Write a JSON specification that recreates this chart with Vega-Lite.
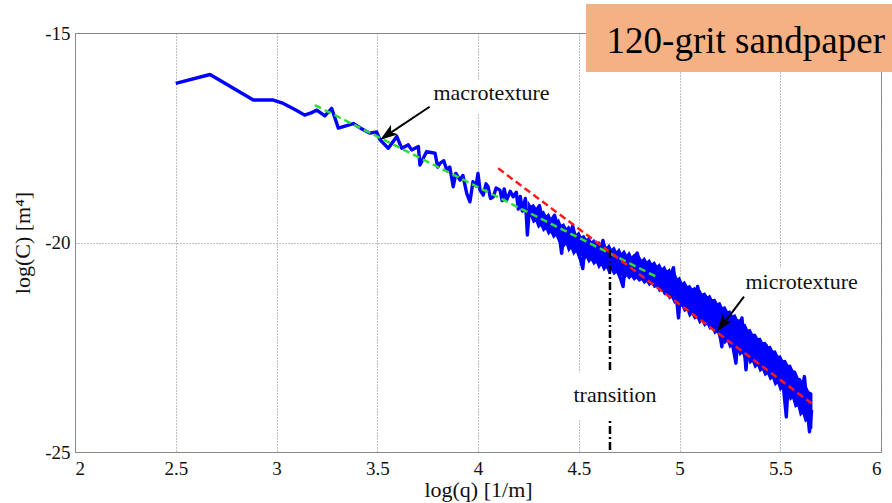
{
  "$schema": "https://vega.github.io/schema/vega-lite/v6.json",
  "width": 806,
  "height": 419,
  "autosize": {"type": "none"},
  "padding": {"left": 75, "top": 33, "right": 11, "bottom": 51},
  "background": "white",
  "config": {
    "view": {"stroke": "#8c8c8c", "strokeWidth": 1},
    "font": "Liberation Serif",
    "axis": {
      "labelFont": "Liberation Serif",
      "titleFont": "Liberation Serif",
      "labelFontSize": 19,
      "titleFontSize": 22,
      "labelColor": "#111",
      "titleColor": "#111",
      "titleFontWeight": "normal",
      "ticks": false,
      "domain": false,
      "grid": true,
      "gridColor": "#808080",
      "gridDash": [1, 2],
      "gridWidth": 1
    }
  },
  "datasets": {
    "blue": [
      {"x": 2.5, "y": -16.2}, {"x": 2.67, "y": -15.99}, {"x": 2.885, "y": -16.6}, {"x": 2.984, "y": -16.6},
      {"x": 3.034, "y": -16.68}, {"x": 3.1, "y": -16.85}, {"x": 3.14, "y": -16.96}, {"x": 3.175, "y": -16.9},
      {"x": 3.2, "y": -16.84}, {"x": 3.24, "y": -16.98}, {"x": 3.274, "y": -16.8}, {"x": 3.307, "y": -17.27},
      {"x": 3.34, "y": -17.22}, {"x": 3.381, "y": -17.16}, {"x": 3.42, "y": -17.28}, {"x": 3.464, "y": -17.39},
      {"x": 3.497, "y": -17.36}, {"x": 3.514, "y": -17.55}, {"x": 3.555, "y": -17.75}, {"x": 3.597, "y": -17.47},
      {"x": 3.621, "y": -17.75}, {"x": 3.654, "y": -17.67}, {"x": 3.671, "y": -17.79}, {"x": 3.704, "y": -17.71},
      {"x": 3.712, "y": -18.15}, {"x": 3.745, "y": -17.83}, {"x": 3.787, "y": -17.87}, {"x": 3.8, "y": -18.2},
      {"x": 3.811, "y": -18.11}, {"x": 3.83, "y": -18.05}, {"x": 3.845, "y": -18.27}, {"x": 3.86, "y": -18.2},
      {"x": 3.877, "y": -18.67}, {"x": 3.89, "y": -18.35}, {"x": 3.911, "y": -18.51}, {"x": 3.925, "y": -18.4},
      {"x": 3.944, "y": -18.83}, {"x": 3.96, "y": -19.03}, {"x": 3.975, "y": -18.55}, {"x": 3.99, "y": -18.65},
      {"x": 4.0, "y": -18.35}, {"x": 4.01, "y": -18.75}, {"x": 4.026, "y": -18.87}, {"x": 4.04, "y": -18.6},
      {"x": 4.05, "y": -18.67}, {"x": 4.062, "y": -18.95}, {"x": 4.076, "y": -18.91}, {"x": 4.09, "y": -18.7},
      {"x": 4.109, "y": -18.75}, {"x": 4.12, "y": -19.0}, {"x": 4.13, "y": -18.72}, {"x": 4.142, "y": -18.99},
      {"x": 4.16, "y": -18.78}, {"x": 4.175, "y": -18.91}, {"x": 4.19, "y": -18.8}, {"x": 4.2, "y": -19.2},
      {"x": 4.21, "y": -18.9}, {"x": 4.22, "y": -19.25}, {"x": 4.235, "y": -18.95}, {"x": 4.245, "y": -19.82},
      {"x": 4.255, "y": -19.2}, {"x": 4.28, "y": -19.3}, {"x": 4.305, "y": -19.12}, {"x": 4.32, "y": -19.45},
      {"x": 4.35, "y": -19.57}, {"x": 4.38, "y": -19.35}, {"x": 4.4, "y": -19.7}, {"x": 4.415, "y": -20.26},
      {"x": 4.425, "y": -19.84}, {"x": 4.45, "y": -19.92}, {"x": 4.47, "y": -19.6}, {"x": 4.49, "y": -20.05},
      {"x": 4.52, "y": -20.62}, {"x": 4.53, "y": -20.1}, {"x": 4.56, "y": -20.2}, {"x": 4.6, "y": -20.3},
      {"x": 4.62, "y": -19.95}, {"x": 4.64, "y": -20.4}, {"x": 4.68, "y": -20.45}, {"x": 4.72, "y": -21.05},
      {"x": 4.73, "y": -20.52}, {"x": 4.76, "y": -20.56}, {"x": 4.79, "y": -20.25}, {"x": 4.81, "y": -20.64},
      {"x": 4.85, "y": -20.73}, {"x": 4.88, "y": -20.78}, {"x": 4.91, "y": -20.85}, {"x": 4.94, "y": -21.0},
      {"x": 4.97, "y": -20.6}, {"x": 4.995, "y": -21.8}, {"x": 5.005, "y": -21.2}, {"x": 5.04, "y": -21.4},
      {"x": 5.07, "y": -21.46}, {"x": 5.09, "y": -21.05}, {"x": 5.11, "y": -21.55}, {"x": 5.14, "y": -21.65},
      {"x": 5.17, "y": -21.77}, {"x": 5.19, "y": -21.85}, {"x": 5.21, "y": -22.49}, {"x": 5.22, "y": -21.96},
      {"x": 5.25, "y": -22.08}, {"x": 5.28, "y": -22.88}, {"x": 5.29, "y": -22.25}, {"x": 5.31, "y": -21.8},
      {"x": 5.33, "y": -23.04}, {"x": 5.34, "y": -22.45}, {"x": 5.37, "y": -22.57}, {"x": 5.4, "y": -22.69},
      {"x": 5.43, "y": -22.45}, {"x": 5.45, "y": -22.89}, {"x": 5.48, "y": -23.02}, {"x": 5.51, "y": -23.15},
      {"x": 5.53, "y": -24.16}, {"x": 5.54, "y": -23.3}, {"x": 5.57, "y": -23.48}, {"x": 5.6, "y": -23.7},
      {"x": 5.62, "y": -23.2}, {"x": 5.635, "y": -24.0}, {"x": 5.645, "y": -24.52}, {"x": 5.656, "y": -24.0}
    ],
    "band": [
      {"x": 4.25, "top": -19.05, "bot": -19.4},
      {"x": 4.262, "top": -19.14, "bot": -19.36},
      {"x": 4.275, "top": -19.1, "bot": -19.52},
      {"x": 4.288, "top": -19.2, "bot": -19.48},
      {"x": 4.3, "top": -19.18, "bot": -19.64},
      {"x": 4.312, "top": -19.3, "bot": -19.58},
      {"x": 4.325, "top": -19.26, "bot": -19.72},
      {"x": 4.338, "top": -19.38, "bot": -19.66},
      {"x": 4.35, "top": -19.32, "bot": -19.8},
      {"x": 4.362, "top": -19.45, "bot": -19.74},
      {"x": 4.375, "top": -19.4, "bot": -19.88},
      {"x": 4.388, "top": -19.52, "bot": -19.82},
      {"x": 4.4, "top": -19.46, "bot": -19.96},
      {"x": 4.412, "top": -19.6, "bot": -19.9},
      {"x": 4.425, "top": -19.56, "bot": -20.1},
      {"x": 4.438, "top": -19.68, "bot": -20.02},
      {"x": 4.45, "top": -19.62, "bot": -20.2},
      {"x": 4.462, "top": -19.74, "bot": -20.12},
      {"x": 4.475, "top": -19.7, "bot": -20.28},
      {"x": 4.488, "top": -19.82, "bot": -20.2},
      {"x": 4.5, "top": -19.76, "bot": -20.36},
      {"x": 4.512, "top": -19.88, "bot": -20.28},
      {"x": 4.525, "top": -19.84, "bot": -20.42},
      {"x": 4.538, "top": -19.94, "bot": -20.34},
      {"x": 4.55, "top": -19.88, "bot": -20.47},
      {"x": 4.562, "top": -20.0, "bot": -20.4},
      {"x": 4.575, "top": -19.94, "bot": -20.52},
      {"x": 4.588, "top": -20.06, "bot": -20.46},
      {"x": 4.6, "top": -19.99, "bot": -20.6},
      {"x": 4.612, "top": -20.1, "bot": -20.52},
      {"x": 4.625, "top": -20.02, "bot": -20.66},
      {"x": 4.638, "top": -20.14, "bot": -20.58},
      {"x": 4.65, "top": -20.06, "bot": -20.72},
      {"x": 4.662, "top": -20.18, "bot": -20.64},
      {"x": 4.675, "top": -20.12, "bot": -20.76},
      {"x": 4.688, "top": -20.24, "bot": -20.7},
      {"x": 4.7, "top": -20.16, "bot": -20.82},
      {"x": 4.712, "top": -20.28, "bot": -20.76},
      {"x": 4.725, "top": -20.2, "bot": -20.86},
      {"x": 4.738, "top": -20.32, "bot": -20.78},
      {"x": 4.75, "top": -20.24, "bot": -20.86},
      {"x": 4.762, "top": -20.36, "bot": -20.8},
      {"x": 4.775, "top": -20.29, "bot": -20.89},
      {"x": 4.788, "top": -20.4, "bot": -20.84},
      {"x": 4.8, "top": -20.34, "bot": -20.92},
      {"x": 4.812, "top": -20.44, "bot": -20.88},
      {"x": 4.825, "top": -20.37, "bot": -20.97},
      {"x": 4.838, "top": -20.48, "bot": -20.92},
      {"x": 4.85, "top": -20.42, "bot": -21.02},
      {"x": 4.862, "top": -20.52, "bot": -20.96},
      {"x": 4.875, "top": -20.47, "bot": -21.07},
      {"x": 4.888, "top": -20.58, "bot": -21.04},
      {"x": 4.9, "top": -20.52, "bot": -21.16},
      {"x": 4.912, "top": -20.64, "bot": -21.1},
      {"x": 4.925, "top": -20.58, "bot": -21.24},
      {"x": 4.938, "top": -20.7, "bot": -21.2},
      {"x": 4.95, "top": -20.64, "bot": -21.34},
      {"x": 4.962, "top": -20.78, "bot": -21.3},
      {"x": 4.975, "top": -20.72, "bot": -21.44},
      {"x": 4.988, "top": -20.88, "bot": -21.4},
      {"x": 5.0, "top": -20.84, "bot": -21.54},
      {"x": 5.012, "top": -20.98, "bot": -21.5},
      {"x": 5.025, "top": -20.94, "bot": -21.64},
      {"x": 5.038, "top": -21.06, "bot": -21.6},
      {"x": 5.05, "top": -21.03, "bot": -21.76},
      {"x": 5.062, "top": -21.12, "bot": -21.7},
      {"x": 5.075, "top": -21.08, "bot": -21.82},
      {"x": 5.088, "top": -21.18, "bot": -21.78},
      {"x": 5.1, "top": -21.14, "bot": -21.92},
      {"x": 5.112, "top": -21.24, "bot": -21.86},
      {"x": 5.125, "top": -21.21, "bot": -21.99},
      {"x": 5.138, "top": -21.31, "bot": -21.94},
      {"x": 5.15, "top": -21.27, "bot": -22.06},
      {"x": 5.162, "top": -21.38, "bot": -22.02},
      {"x": 5.175, "top": -21.36, "bot": -22.17},
      {"x": 5.188, "top": -21.47, "bot": -22.12},
      {"x": 5.2, "top": -21.44, "bot": -22.29},
      {"x": 5.212, "top": -21.56, "bot": -22.24},
      {"x": 5.225, "top": -21.54, "bot": -22.4},
      {"x": 5.238, "top": -21.66, "bot": -22.34},
      {"x": 5.25, "top": -21.64, "bot": -22.5},
      {"x": 5.262, "top": -21.76, "bot": -22.44},
      {"x": 5.275, "top": -21.73, "bot": -22.59},
      {"x": 5.288, "top": -21.86, "bot": -22.54},
      {"x": 5.3, "top": -21.84, "bot": -22.68},
      {"x": 5.312, "top": -21.97, "bot": -22.62},
      {"x": 5.325, "top": -21.96, "bot": -22.78},
      {"x": 5.338, "top": -22.1, "bot": -22.72},
      {"x": 5.35, "top": -22.08, "bot": -22.88},
      {"x": 5.362, "top": -22.2, "bot": -22.82},
      {"x": 5.375, "top": -22.19, "bot": -22.98},
      {"x": 5.388, "top": -22.3, "bot": -22.92},
      {"x": 5.4, "top": -22.29, "bot": -23.07},
      {"x": 5.412, "top": -22.4, "bot": -23.02},
      {"x": 5.425, "top": -22.39, "bot": -23.17},
      {"x": 5.438, "top": -22.5, "bot": -23.12},
      {"x": 5.45, "top": -22.48, "bot": -23.27},
      {"x": 5.462, "top": -22.6, "bot": -23.22},
      {"x": 5.475, "top": -22.59, "bot": -23.4},
      {"x": 5.488, "top": -22.72, "bot": -23.34},
      {"x": 5.5, "top": -22.71, "bot": -23.52},
      {"x": 5.512, "top": -22.83, "bot": -23.46},
      {"x": 5.525, "top": -22.82, "bot": -23.64},
      {"x": 5.538, "top": -22.94, "bot": -23.58},
      {"x": 5.55, "top": -22.93, "bot": -23.75},
      {"x": 5.562, "top": -23.06, "bot": -23.7},
      {"x": 5.575, "top": -23.08, "bot": -23.92},
      {"x": 5.588, "top": -23.24, "bot": -23.88},
      {"x": 5.6, "top": -23.26, "bot": -24.12},
      {"x": 5.612, "top": -23.4, "bot": -24.06},
      {"x": 5.625, "top": -23.41, "bot": -24.27},
      {"x": 5.64, "top": -23.56, "bot": -24.2},
      {"x": 5.656, "top": -23.6, "bot": -24.44}
    ],
    "green": [{"x": 3.19, "y": -16.72}, {"x": 4.886, "y": -20.82}],
    "red": [{"x": 4.1, "y": -18.23}, {"x": 5.656, "y": -23.84}],
    "transition": [{"x": 4.655, "y": -20.18, "y2": -25}],
    "labelBoxes": [
      {"x": 3.732, "x2": 4.407, "y": -16.12, "y2": -16.91},
      {"x": 5.3, "x2": 5.91, "y": -20.61, "y2": -21.37},
      {"x": 4.437, "x2": 4.943, "y": -23.11, "y2": -24.24}
    ],
    "labels": [
      {"x": 4.067, "y": -16.6, "label": "macrotexture"},
      {"x": 5.606, "y": -21.12, "label": "microtexture"},
      {"x": 4.68, "y": -23.81, "label": "transition"}
    ],
    "arrows": [
      {"x": 3.76, "y": -16.76, "x2": 3.56, "y2": -17.4},
      {"x": 5.32, "y": -21.29, "x2": 5.22, "y2": -21.93}
    ],
    "headMacro": [{"x": 3.554, "y": -17.415}],
    "headMicro": [{"x": 5.215, "y": -21.94}],
    "titleBox": [{"x": 4.536, "x2": 6.07, "y": -14.31, "y2": -15.93}],
    "titleText": [{"x": 5.329, "y": -15.485, "label": "120-grit sandpaper"}]
  },
  "layer": [
    {
      "data": {"name": "band"},
      "mark": {"type": "area", "fill": "#0000ff", "stroke": "#0000ff", "strokeWidth": 1.5, "opacity": 1, "fillOpacity": 1, "strokeOpacity": 1},
      "encoding": {
        "x": {"field": "x", "type": "quantitative", "scale": {"domain": [2, 6], "nice": false, "zero": false},
              "axis": {"title": "log(q) [1/m]", "values": [2, 2.5, 3, 3.5, 4, 4.5, 5, 5.5, 6], "labelExpr": "'' + datum.value", "labelFont": "Liberation Serif", "labelPadding": 7, "titleFont": "Liberation Serif", "titleBaseline": "alphabetic", "titleY": 44}},
        "y": {"field": "top", "type": "quantitative", "scale": {"domain": [-25, -15], "nice": false, "zero": false},
              "axis": {"title": "log(C) [m⁴]", "values": [-25, -20, -15], "labelExpr": "'' + datum.value", "labelFont": "Liberation Serif", "labelPadding": 5, "titleFont": "Liberation Serif", "titleBaseline": "alphabetic", "titleX": -46, "titleFontSize": 22}},
        "y2": {"field": "bot"}
      }
    },
    {
      "data": {"name": "blue"},
      "mark": {"type": "line", "color": "#0000ff", "strokeWidth": 3.4, "strokeJoin": "round", "opacity": 1},
      "encoding": {
        "x": {"field": "x", "type": "quantitative", "scale": {"domain": [2, 6], "nice": false, "zero": false}},
        "y": {"field": "y", "type": "quantitative", "scale": {"domain": [-25, -15], "nice": false, "zero": false}}
      }
    },
    {
      "data": {"name": "green"},
      "mark": {"type": "line", "color": "#33dd33", "strokeWidth": 2.5, "strokeDash": [7, 4]},
      "encoding": {
        "x": {"field": "x", "type": "quantitative"},
        "y": {"field": "y", "type": "quantitative"}
      }
    },
    {
      "data": {"name": "red"},
      "mark": {"type": "line", "color": "#ff1a1a", "strokeWidth": 2.5, "strokeDash": [7, 4]},
      "encoding": {
        "x": {"field": "x", "type": "quantitative"},
        "y": {"field": "y", "type": "quantitative"}
      }
    },
    {
      "data": {"name": "transition"},
      "mark": {"type": "rule", "color": "#000000", "strokeWidth": 2.5, "strokeDash": [8, 3, 2, 3]},
      "encoding": {
        "x": {"field": "x", "type": "quantitative"},
        "y": {"field": "y", "type": "quantitative"},
        "y2": {"field": "y2"}
      }
    },
    {
      "data": {"name": "labelBoxes"},
      "mark": {"type": "rect", "color": "white", "opacity": 1},
      "encoding": {
        "x": {"field": "x", "type": "quantitative"},
        "x2": {"field": "x2"},
        "y": {"field": "y", "type": "quantitative"},
        "y2": {"field": "y2"}
      }
    },
    {
      "data": {"name": "labels"},
      "mark": {"type": "text", "font": "Liberation Serif", "fontSize": 22, "color": "#111", "align": "center", "baseline": "alphabetic"},
      "encoding": {
        "x": {"field": "x", "type": "quantitative"},
        "y": {"field": "y", "type": "quantitative"},
        "text": {"field": "label"}
      }
    },
    {
      "data": {"name": "arrows"},
      "mark": {"type": "rule", "color": "#000000", "strokeWidth": 2},
      "encoding": {
        "x": {"field": "x", "type": "quantitative"},
        "y": {"field": "y", "type": "quantitative"},
        "x2": {"field": "x2"},
        "y2": {"field": "y2"}
      }
    },
    {
      "data": {"name": "headMacro"},
      "mark": {"type": "point", "shape": "M0,-1L0.6,0.8L0,0.35L-0.6,0.8Z", "filled": true, "color": "#000000", "size": 400, "angle": 234, "opacity": 1},
      "encoding": {
        "x": {"field": "x", "type": "quantitative"},
        "y": {"field": "y", "type": "quantitative"}
      }
    },
    {
      "data": {"name": "headMicro"},
      "mark": {"type": "point", "shape": "M0,-1L0.6,0.8L0,0.35L-0.6,0.8Z", "filled": true, "color": "#000000", "size": 400, "angle": 217, "opacity": 1},
      "encoding": {
        "x": {"field": "x", "type": "quantitative"},
        "y": {"field": "y", "type": "quantitative"}
      }
    },
    {
      "data": {"name": "titleBox"},
      "mark": {"type": "rect", "color": "#f4b183", "opacity": 1, "clip": false},
      "encoding": {
        "x": {"field": "x", "type": "quantitative"},
        "x2": {"field": "x2"},
        "y": {"field": "y", "type": "quantitative"},
        "y2": {"field": "y2"}
      }
    },
    {
      "data": {"name": "titleText"},
      "mark": {"type": "text", "font": "Liberation Serif", "fontSize": 37, "color": "#000000", "align": "center", "baseline": "alphabetic", "clip": false},
      "encoding": {
        "x": {"field": "x", "type": "quantitative"},
        "y": {"field": "y", "type": "quantitative"},
        "text": {"field": "label"}
      }
    }
  ]
}
